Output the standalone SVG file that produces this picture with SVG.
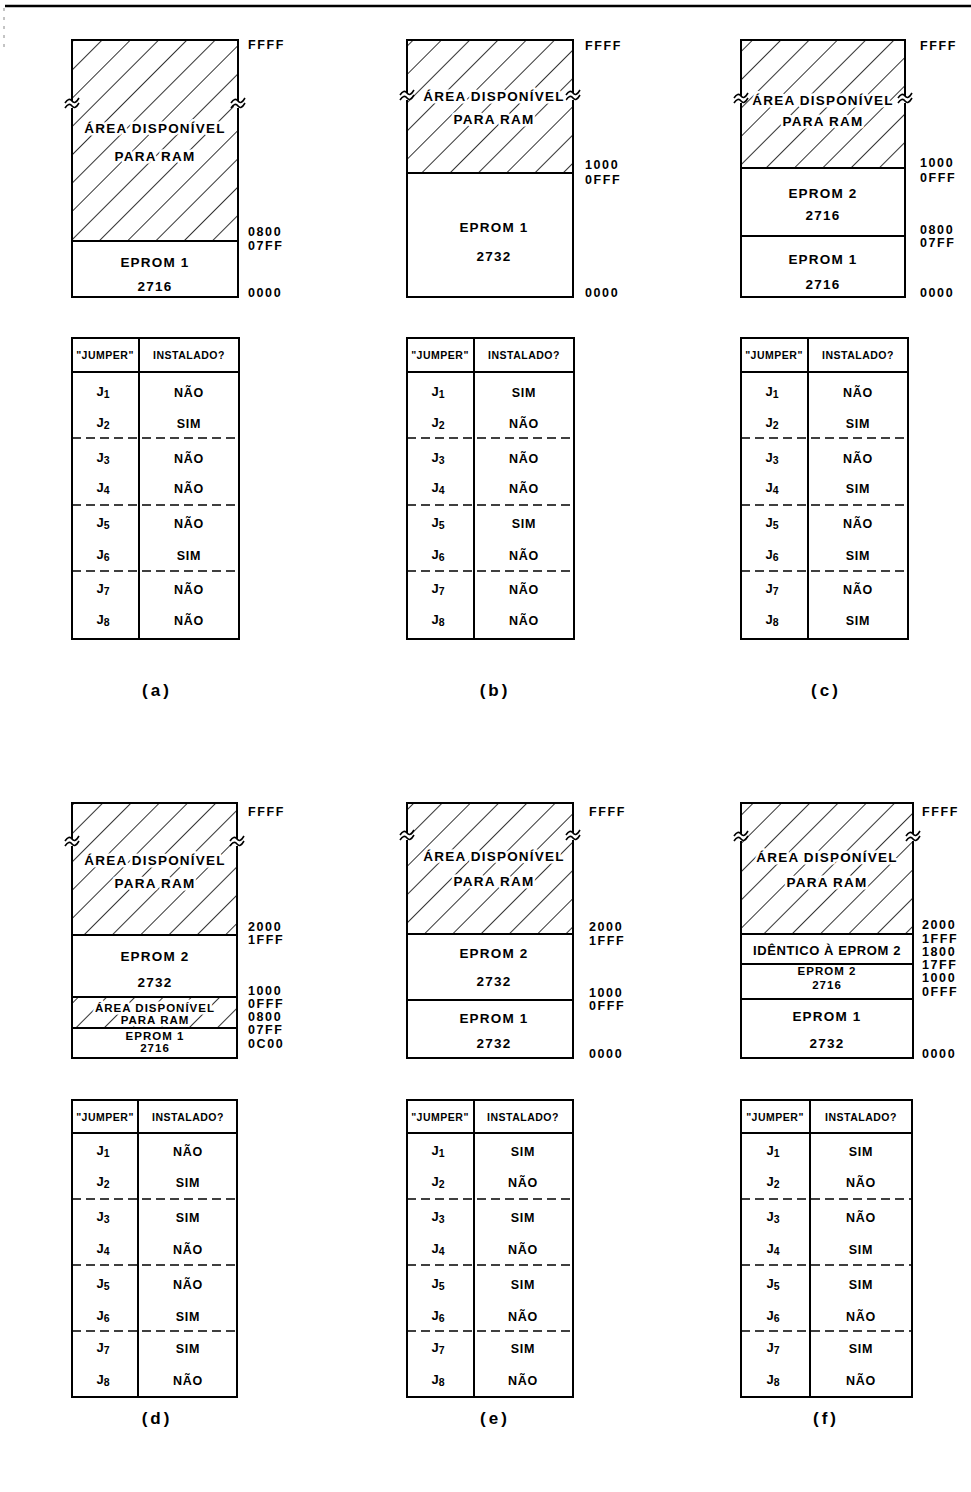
<svg xmlns="http://www.w3.org/2000/svg" width="971" height="1492" viewBox="0 0 971 1492">
<defs>
<pattern id="hatch" patternUnits="userSpaceOnUse" width="20" height="20" patternTransform="rotate(45)">
<line x1="0" y1="0" x2="0" y2="20" stroke="#000" stroke-width="1.6"/>
</pattern>
<style>
text{font-family:"Liberation Sans",Arial,sans-serif;font-weight:bold;fill:#000;dominant-baseline:central}
.box{fill:#fff;stroke:#000;stroke-width:2}
.hat{fill:url(#hatch);stroke:none}
.ln{stroke:#000;stroke-width:2;fill:none}
.dash{stroke:#000;stroke-width:1.6;stroke-dasharray:9 5;fill:none}
.brk{stroke:#000;stroke-width:1.6;fill:none}
.gap{fill:#fff;stroke:none}
.adr{font-size:12.5px;letter-spacing:1.6px}
.mem{font-size:13.5px;text-anchor:middle;letter-spacing:1.2px}
.sm{font-size:11.5px;text-anchor:middle;letter-spacing:1px}
.ram{stroke:#fff;stroke-width:5;paint-order:stroke;stroke-linejoin:round}
.th{font-size:10.5px;text-anchor:middle;letter-spacing:0.5px}
.tv{font-size:12.5px;text-anchor:middle;letter-spacing:0.8px}
.tj{font-size:13px;text-anchor:middle}
.sub{font-size:10.5px}
.cap{font-size:17px;text-anchor:middle;letter-spacing:3px}
</style>
</defs>

<line x1="5" y1="6" x2="971" y2="6" stroke="#000" stroke-width="2.5"/>
<line x1="4" y1="8" x2="4" y2="50" stroke="#888" stroke-width="1" stroke-dasharray="3 6"/>

<!-- ============ PANEL A ============ -->
<g id="panel-a">
<rect class="box" x="72" y="40" width="166" height="257"/>
<rect class="hat" x="72" y="40" width="166" height="201"/>
<line class="ln" x1="72" y1="241" x2="238" y2="241"/>
<rect class="gap" x="68" y="101" width="8" height="7"/><rect class="gap" x="234" y="101" width="8" height="7"/>
<path class="brk" d="M65,103 q4,-6 7,-2 t7,-3 M65,108 q4,-6 7,-2 t7,-3 M231,103 q4,-6 7,-2 t7,-3 M231,108 q4,-6 7,-2 t7,-3"/>
<text class="mem ram" x="155" y="128">ÁREA DISPONÍVEL</text>
<text class="mem ram" x="155" y="156">PARA RAM</text>
<text class="mem" x="155" y="262">EPROM 1</text>
<text class="mem" x="155" y="286">2716</text>
<text class="adr" x="248" y="45">FFFF</text>
<text class="adr" x="248" y="232">0800</text>
<text class="adr" x="248" y="246">07FF</text>
<text class="adr" x="248" y="293">0000</text>
</g>

<!-- ============ PANEL B ============ -->
<g id="panel-b">
<rect class="box" x="407" y="40" width="166" height="257"/>
<rect class="hat" x="407" y="40" width="166" height="133"/>
<line class="ln" x1="407" y1="173" x2="573" y2="173"/>
<rect class="gap" x="403" y="93" width="8" height="7"/><rect class="gap" x="569" y="93" width="8" height="7"/>
<path class="brk" d="M400,95 q4,-6 7,-2 t7,-3 M400,100 q4,-6 7,-2 t7,-3 M566,95 q4,-6 7,-2 t7,-3 M566,100 q4,-6 7,-2 t7,-3"/>
<text class="mem ram" x="494" y="96">ÁREA DISPONÍVEL</text>
<text class="mem ram" x="494" y="119">PARA RAM</text>
<text class="mem" x="494" y="227">EPROM 1</text>
<text class="mem" x="494" y="256">2732</text>
<text class="adr" x="585" y="46">FFFF</text>
<text class="adr" x="585" y="165">1000</text>
<text class="adr" x="585" y="180">0FFF</text>
<text class="adr" x="585" y="293">0000</text>
</g>

<!-- ============ PANEL C ============ -->
<g id="panel-c">
<rect class="box" x="741" y="40" width="164" height="257"/>
<rect class="hat" x="741" y="40" width="164" height="128"/>
<line class="ln" x1="741" y1="168" x2="905" y2="168"/>
<line class="ln" x1="741" y1="236" x2="905" y2="236"/>
<rect class="gap" x="737" y="96" width="8" height="7"/><rect class="gap" x="901" y="96" width="8" height="7"/>
<path class="brk" d="M734,98 q4,-6 7,-2 t7,-3 M734,103 q4,-6 7,-2 t7,-3 M898,98 q4,-6 7,-2 t7,-3 M898,103 q4,-6 7,-2 t7,-3"/>
<text class="mem ram" x="823" y="100">ÁREA DISPONÍVEL</text>
<text class="mem ram" x="823" y="121">PARA RAM</text>
<text class="mem" x="823" y="193">EPROM 2</text>
<text class="mem" x="823" y="215">2716</text>
<text class="mem" x="823" y="259">EPROM 1</text>
<text class="mem" x="823" y="284">2716</text>
<text class="adr" x="920" y="46">FFFF</text>
<text class="adr" x="920" y="163">1000</text>
<text class="adr" x="920" y="178">0FFF</text>
<text class="adr" x="920" y="230">0800</text>
<text class="adr" x="920" y="243">07FF</text>
<text class="adr" x="920" y="293">0000</text>
</g>

<!-- ============ PANEL D ============ -->
<g id="panel-d">
<rect class="box" x="72" y="803" width="165" height="255"/>
<rect class="hat" x="72" y="803" width="165" height="132"/>
<rect class="hat" x="72" y="997" width="165" height="31"/>
<line class="ln" x1="72" y1="935" x2="237" y2="935"/>
<line class="ln" x1="72" y1="997" x2="237" y2="997"/>
<line class="ln" x1="72" y1="1028" x2="237" y2="1028"/>
<rect class="gap" x="68" y="839" width="8" height="7"/><rect class="gap" x="233" y="839" width="8" height="7"/>
<path class="brk" d="M65,841 q4,-6 7,-2 t7,-3 M65,846 q4,-6 7,-2 t7,-3 M230,841 q4,-6 7,-2 t7,-3 M230,846 q4,-6 7,-2 t7,-3"/>
<text class="mem ram" x="155" y="860">ÁREA DISPONÍVEL</text>
<text class="mem ram" x="155" y="883">PARA RAM</text>
<text class="mem" x="155" y="956">EPROM 2</text>
<text class="mem" x="155" y="982">2732</text>
<text class="sm ram" x="155" y="1008">ÁREA DISPONÍVEL</text>
<text class="sm ram" x="155" y="1020">PARA RAM</text>
<text class="sm" x="155" y="1036">EPROM 1</text>
<text class="sm" x="155" y="1048">2716</text>
<text class="adr" x="248" y="812">FFFF</text>
<text class="adr" x="248" y="927">2000</text>
<text class="adr" x="248" y="940">1FFF</text>
<text class="adr" x="248" y="991">1000</text>
<text class="adr" x="248" y="1004">0FFF</text>
<text class="adr" x="248" y="1017">0800</text>
<text class="adr" x="248" y="1030">07FF</text>
<text class="adr" x="248" y="1044">0C00</text>
</g>

<!-- ============ PANEL E ============ -->
<g id="panel-e">
<rect class="box" x="407" y="803" width="166" height="255"/>
<rect class="hat" x="407" y="803" width="166" height="131"/>
<line class="ln" x1="407" y1="934" x2="573" y2="934"/>
<line class="ln" x1="407" y1="1000" x2="573" y2="1000"/>
<rect class="gap" x="403" y="833" width="8" height="7"/><rect class="gap" x="569" y="833" width="8" height="7"/>
<path class="brk" d="M400,835 q4,-6 7,-2 t7,-3 M400,840 q4,-6 7,-2 t7,-3 M566,835 q4,-6 7,-2 t7,-3 M566,840 q4,-6 7,-2 t7,-3"/>
<text class="mem ram" x="494" y="856">ÁREA DISPONÍVEL</text>
<text class="mem ram" x="494" y="881">PARA RAM</text>
<text class="mem" x="494" y="953">EPROM 2</text>
<text class="mem" x="494" y="981">2732</text>
<text class="mem" x="494" y="1018">EPROM 1</text>
<text class="mem" x="494" y="1043">2732</text>
<text class="adr" x="589" y="812">FFFF</text>
<text class="adr" x="589" y="927">2000</text>
<text class="adr" x="589" y="941">1FFF</text>
<text class="adr" x="589" y="993">1000</text>
<text class="adr" x="589" y="1006">0FFF</text>
<text class="adr" x="589" y="1054">0000</text>
</g>

<!-- ============ PANEL F ============ -->
<g id="panel-f">
<rect class="box" x="741" y="803" width="172" height="255"/>
<rect class="hat" x="741" y="803" width="172" height="131"/>
<line class="ln" x1="741" y1="934" x2="913" y2="934"/>
<line class="ln" x1="741" y1="964" x2="913" y2="964"/>
<line class="ln" x1="741" y1="999" x2="913" y2="999"/>
<rect class="gap" x="737" y="834" width="8" height="7"/><rect class="gap" x="909" y="834" width="8" height="7"/>
<path class="brk" d="M734,836 q4,-6 7,-2 t7,-3 M734,841 q4,-6 7,-2 t7,-3 M906,836 q4,-6 7,-2 t7,-3 M906,841 q4,-6 7,-2 t7,-3"/>
<text class="mem ram" x="827" y="857">ÁREA DISPONÍVEL</text>
<text class="mem ram" x="827" y="882">PARA RAM</text>
<text class="sm" x="827" y="950" style="font-size:13px;letter-spacing:0.6px">IDÊNTICO À EPROM 2</text>
<text class="sm" x="827" y="971">EPROM 2</text>
<text class="sm" x="827" y="985">2716</text>
<text class="mem" x="827" y="1016">EPROM 1</text>
<text class="mem" x="827" y="1043">2732</text>
<text class="adr" x="922" y="812">FFFF</text>
<text class="adr" x="922" y="925">2000</text>
<text class="adr" x="922" y="939">1FFF</text>
<text class="adr" x="922" y="952">1800</text>
<text class="adr" x="922" y="965">17FF</text>
<text class="adr" x="922" y="978">1000</text>
<text class="adr" x="922" y="992">0FFF</text>
<text class="adr" x="922" y="1054">0000</text>
</g>

<!-- ============ TABLES ============ -->
<g id="table-a">
<rect class="box" x="72" y="338" width="167" height="301"/>
<line class="ln" x1="72" y1="372" x2="239" y2="372"/>
<line class="ln" x1="139" y1="338" x2="139" y2="639"/>
<line class="dash" x1="72" y1="438" x2="239" y2="438"/>
<line class="dash" x1="72" y1="505" x2="239" y2="505"/>
<line class="dash" x1="72" y1="571" x2="239" y2="571"/>
<text class="th" x="105" y="355">"JUMPER"</text><text class="th" x="189" y="355">INSTALADO?</text>
<text class="tj" x="103" y="391">J<tspan class="sub" dy="3">1</tspan></text><text class="tv" x="189" y="393">NÃO</text>
<text class="tj" x="103" y="422">J<tspan class="sub" dy="3">2</tspan></text><text class="tv" x="189" y="424">SIM</text>
<text class="tj" x="103" y="457">J<tspan class="sub" dy="3">3</tspan></text><text class="tv" x="189" y="459">NÃO</text>
<text class="tj" x="103" y="487">J<tspan class="sub" dy="3">4</tspan></text><text class="tv" x="189" y="489">NÃO</text>
<text class="tj" x="103" y="522">J<tspan class="sub" dy="3">5</tspan></text><text class="tv" x="189" y="524">NÃO</text>
<text class="tj" x="103" y="554">J<tspan class="sub" dy="3">6</tspan></text><text class="tv" x="189" y="556">SIM</text>
<text class="tj" x="103" y="588">J<tspan class="sub" dy="3">7</tspan></text><text class="tv" x="189" y="590">NÃO</text>
<text class="tj" x="103" y="619">J<tspan class="sub" dy="3">8</tspan></text><text class="tv" x="189" y="621">NÃO</text>
</g>

<g id="table-b">
<rect class="box" x="407" y="338" width="167" height="301"/>
<line class="ln" x1="407" y1="372" x2="574" y2="372"/>
<line class="ln" x1="474" y1="338" x2="474" y2="639"/>
<line class="dash" x1="407" y1="438" x2="574" y2="438"/>
<line class="dash" x1="407" y1="505" x2="574" y2="505"/>
<line class="dash" x1="407" y1="571" x2="574" y2="571"/>
<text class="th" x="440" y="355">"JUMPER"</text><text class="th" x="524" y="355">INSTALADO?</text>
<text class="tj" x="438" y="391">J<tspan class="sub" dy="3">1</tspan></text><text class="tv" x="524" y="393">SIM</text>
<text class="tj" x="438" y="422">J<tspan class="sub" dy="3">2</tspan></text><text class="tv" x="524" y="424">NÃO</text>
<text class="tj" x="438" y="457">J<tspan class="sub" dy="3">3</tspan></text><text class="tv" x="524" y="459">NÃO</text>
<text class="tj" x="438" y="487">J<tspan class="sub" dy="3">4</tspan></text><text class="tv" x="524" y="489">NÃO</text>
<text class="tj" x="438" y="522">J<tspan class="sub" dy="3">5</tspan></text><text class="tv" x="524" y="524">SIM</text>
<text class="tj" x="438" y="554">J<tspan class="sub" dy="3">6</tspan></text><text class="tv" x="524" y="556">NÃO</text>
<text class="tj" x="438" y="588">J<tspan class="sub" dy="3">7</tspan></text><text class="tv" x="524" y="590">NÃO</text>
<text class="tj" x="438" y="619">J<tspan class="sub" dy="3">8</tspan></text><text class="tv" x="524" y="621">NÃO</text>
</g>

<g id="table-c">
<rect class="box" x="741" y="338" width="167" height="301"/>
<line class="ln" x1="741" y1="372" x2="908" y2="372"/>
<line class="ln" x1="808" y1="338" x2="808" y2="639"/>
<line class="dash" x1="741" y1="438" x2="908" y2="438"/>
<line class="dash" x1="741" y1="505" x2="908" y2="505"/>
<line class="dash" x1="741" y1="571" x2="908" y2="571"/>
<text class="th" x="774" y="355">"JUMPER"</text><text class="th" x="858" y="355">INSTALADO?</text>
<text class="tj" x="772" y="391">J<tspan class="sub" dy="3">1</tspan></text><text class="tv" x="858" y="393">NÃO</text>
<text class="tj" x="772" y="422">J<tspan class="sub" dy="3">2</tspan></text><text class="tv" x="858" y="424">SIM</text>
<text class="tj" x="772" y="457">J<tspan class="sub" dy="3">3</tspan></text><text class="tv" x="858" y="459">NÃO</text>
<text class="tj" x="772" y="487">J<tspan class="sub" dy="3">4</tspan></text><text class="tv" x="858" y="489">SIM</text>
<text class="tj" x="772" y="522">J<tspan class="sub" dy="3">5</tspan></text><text class="tv" x="858" y="524">NÃO</text>
<text class="tj" x="772" y="554">J<tspan class="sub" dy="3">6</tspan></text><text class="tv" x="858" y="556">SIM</text>
<text class="tj" x="772" y="588">J<tspan class="sub" dy="3">7</tspan></text><text class="tv" x="858" y="590">NÃO</text>
<text class="tj" x="772" y="619">J<tspan class="sub" dy="3">8</tspan></text><text class="tv" x="858" y="621">SIM</text>
</g>

<g id="table-d">
<rect class="box" x="72" y="1100" width="165" height="297"/>
<line class="ln" x1="72" y1="1133" x2="237" y2="1133"/>
<line class="ln" x1="138" y1="1100" x2="138" y2="1397"/>
<line class="dash" x1="72" y1="1199" x2="237" y2="1199"/>
<line class="dash" x1="72" y1="1265" x2="237" y2="1265"/>
<line class="dash" x1="72" y1="1331" x2="237" y2="1331"/>
<text class="th" x="105" y="1117">"JUMPER"</text><text class="th" x="188" y="1117">INSTALADO?</text>
<text class="tj" x="103" y="1150">J<tspan class="sub" dy="3">1</tspan></text><text class="tv" x="188" y="1152">NÃO</text>
<text class="tj" x="103" y="1181">J<tspan class="sub" dy="3">2</tspan></text><text class="tv" x="188" y="1183">SIM</text>
<text class="tj" x="103" y="1216">J<tspan class="sub" dy="3">3</tspan></text><text class="tv" x="188" y="1218">SIM</text>
<text class="tj" x="103" y="1248">J<tspan class="sub" dy="3">4</tspan></text><text class="tv" x="188" y="1250">NÃO</text>
<text class="tj" x="103" y="1283">J<tspan class="sub" dy="3">5</tspan></text><text class="tv" x="188" y="1285">NÃO</text>
<text class="tj" x="103" y="1315">J<tspan class="sub" dy="3">6</tspan></text><text class="tv" x="188" y="1317">SIM</text>
<text class="tj" x="103" y="1347">J<tspan class="sub" dy="3">7</tspan></text><text class="tv" x="188" y="1349">SIM</text>
<text class="tj" x="103" y="1379">J<tspan class="sub" dy="3">8</tspan></text><text class="tv" x="188" y="1381">NÃO</text>
</g>

<g id="table-e">
<rect class="box" x="407" y="1100" width="166" height="297"/>
<line class="ln" x1="407" y1="1133" x2="573" y2="1133"/>
<line class="ln" x1="474" y1="1100" x2="474" y2="1397"/>
<line class="dash" x1="407" y1="1199" x2="573" y2="1199"/>
<line class="dash" x1="407" y1="1265" x2="573" y2="1265"/>
<line class="dash" x1="407" y1="1331" x2="573" y2="1331"/>
<text class="th" x="440" y="1117">"JUMPER"</text><text class="th" x="523" y="1117">INSTALADO?</text>
<text class="tj" x="438" y="1150">J<tspan class="sub" dy="3">1</tspan></text><text class="tv" x="523" y="1152">SIM</text>
<text class="tj" x="438" y="1181">J<tspan class="sub" dy="3">2</tspan></text><text class="tv" x="523" y="1183">NÃO</text>
<text class="tj" x="438" y="1216">J<tspan class="sub" dy="3">3</tspan></text><text class="tv" x="523" y="1218">SIM</text>
<text class="tj" x="438" y="1248">J<tspan class="sub" dy="3">4</tspan></text><text class="tv" x="523" y="1250">NÃO</text>
<text class="tj" x="438" y="1283">J<tspan class="sub" dy="3">5</tspan></text><text class="tv" x="523" y="1285">SIM</text>
<text class="tj" x="438" y="1315">J<tspan class="sub" dy="3">6</tspan></text><text class="tv" x="523" y="1317">NÃO</text>
<text class="tj" x="438" y="1347">J<tspan class="sub" dy="3">7</tspan></text><text class="tv" x="523" y="1349">SIM</text>
<text class="tj" x="438" y="1379">J<tspan class="sub" dy="3">8</tspan></text><text class="tv" x="523" y="1381">NÃO</text>
</g>

<g id="table-f">
<rect class="box" x="741" y="1100" width="171" height="297"/>
<line class="ln" x1="741" y1="1133" x2="912" y2="1133"/>
<line class="ln" x1="810" y1="1100" x2="810" y2="1397"/>
<line class="dash" x1="741" y1="1199" x2="912" y2="1199"/>
<line class="dash" x1="741" y1="1265" x2="912" y2="1265"/>
<line class="dash" x1="741" y1="1331" x2="912" y2="1331"/>
<text class="th" x="775" y="1117">"JUMPER"</text><text class="th" x="861" y="1117">INSTALADO?</text>
<text class="tj" x="773" y="1150">J<tspan class="sub" dy="3">1</tspan></text><text class="tv" x="861" y="1152">SIM</text>
<text class="tj" x="773" y="1181">J<tspan class="sub" dy="3">2</tspan></text><text class="tv" x="861" y="1183">NÃO</text>
<text class="tj" x="773" y="1216">J<tspan class="sub" dy="3">3</tspan></text><text class="tv" x="861" y="1218">NÃO</text>
<text class="tj" x="773" y="1248">J<tspan class="sub" dy="3">4</tspan></text><text class="tv" x="861" y="1250">SIM</text>
<text class="tj" x="773" y="1283">J<tspan class="sub" dy="3">5</tspan></text><text class="tv" x="861" y="1285">SIM</text>
<text class="tj" x="773" y="1315">J<tspan class="sub" dy="3">6</tspan></text><text class="tv" x="861" y="1317">NÃO</text>
<text class="tj" x="773" y="1347">J<tspan class="sub" dy="3">7</tspan></text><text class="tv" x="861" y="1349">SIM</text>
<text class="tj" x="773" y="1379">J<tspan class="sub" dy="3">8</tspan></text><text class="tv" x="861" y="1381">NÃO</text>
</g>

<g id="captions">
<text class="cap" x="157" y="690">(a)</text>
<text class="cap" x="495" y="690">(b)</text>
<text class="cap" x="826" y="690">(c)</text>
<text class="cap" x="157" y="1418">(d)</text>
<text class="cap" x="495" y="1418">(e)</text>
<text class="cap" x="826" y="1418">(f)</text>
</g>
<g id="connectors"/>
</svg>
